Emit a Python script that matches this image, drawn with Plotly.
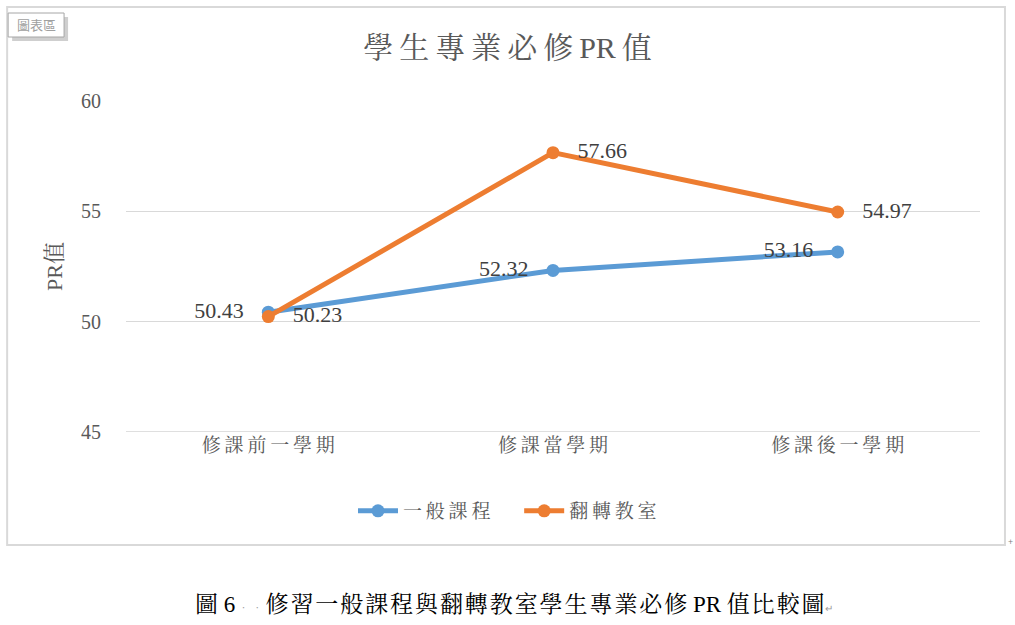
import plotly.graph_objects as go

categories = ["修課前一學期", "修課當學期", "修課後一學期"]
general = [50.43, 52.32, 53.16]
flipped = [50.23, 57.66, 54.97]
series_names = ["一般課程", "翻轉教室"]
y_ticks = [45, 50, 55, 60]
title_text = "學生專業必修PR值"
y_title = "PR值"

SERIF = "Liberation Serif, 'Times New Roman', 'Noto Serif CJK TC', 'Noto Sans CJK TC', serif"
BLUE = "#5B9BD5"
ORANGE = "#ED7D31"
THIN = "\u2009"
NB = "\u00a0"


def spaced(s, gap=THIN):
    """Widen CJK spacing (Ming fonts in the original are wider)."""
    out = ""
    for i, ch in enumerate(s):
        out += ch
        if i < len(s) - 1:
            nxt = s[i + 1]
            if not (ch.isascii() and nxt.isascii()):
                out += gap
    return out


cat_labels = [spaced(c) for c in categories]

fig = go.Figure()
fig.add_trace(go.Scatter(
    x=categories, y=general, name=spaced(series_names[0]) + NB * 5, mode="lines+markers+text",
    line=dict(color=BLUE, width=5), marker=dict(size=13, color=BLUE),
    text=[f"{v:.2f}{NB}{NB}{THIN}" for v in general], textposition="middle left",
    textfont=dict(family=SERIF, size=22, color="#404040"), cliponaxis=False,
))
fig.add_trace(go.Scatter(
    x=categories, y=flipped, name=spaced(series_names[1]), mode="lines+markers+text",
    line=dict(color=ORANGE, width=5), marker=dict(size=13, color=ORANGE),
    text=[f"{NB}{NB}{THIN}{v:.2f}" for v in flipped], textposition="middle right",
    textfont=dict(family=SERIF, size=22, color="#404040"), cliponaxis=False,
))

fig.update_layout(
    width=1015, height=625,
    paper_bgcolor="white", plot_bgcolor="white",
    margin=dict(l=126, r=35, t=101, b=193, autoexpand=False),
    title=dict(text=spaced(title_text), x=0.5, xanchor="center", y=1 - 47 / 625, yanchor="middle",
               font=dict(family=SERIF, size=30, color="#595959")),
    xaxis=dict(showgrid=False, showline=False, ticks="", zeroline=False,
               tickvals=categories, ticktext=cat_labels,
               tickfont=dict(family=SERIF, size=19, color="#595959"),
               range=[-0.5, 2.5]),
    yaxis=dict(range=[45, 60], tickvals=y_ticks, showgrid=True, gridcolor="#D9D9D9", gridwidth=1,
               zeroline=False, showline=False, ticks="", ticklabelstandoff=24,
               tickfont=dict(family=SERIF, size=20, color="#595959"),
               title=dict(text=y_title, font=dict(family=SERIF, size=22, color="#595959"),
                          standoff=12)),
    legend=dict(orientation="h", xref="container", x=0.5, xanchor="center",
                y=(432 - 511) / 331, yref="paper",
                yanchor="middle", font=dict(family=SERIF, size=19, color="#595959"),
                itemwidth=40, tracegroupgap=0),
    showlegend=True,
)
# axis line at 45 slightly darker
fig.add_shape(type="line", xref="paper", yref="y", x0=0, x1=1, y0=45, y1=45,
              line=dict(color="#BFBFBF", width=1), layer="below")


def px_x(px):
    return (px - 126) / 855


def px_y(py):
    return (432 - py) / 331


# chart frame
fig.add_shape(type="rect", xref="paper", yref="paper",
              x0=px_x(7), x1=px_x(1006), y0=px_y(545), y1=px_y(7),
              line=dict(color="#D9D9D9", width=2), layer="below")

# "圖表區" tooltip box with shadow
fig.add_shape(type="rect", xref="paper", yref="paper",
              x0=px_x(12), x1=px_x(68), y0=px_y(41), y1=px_y(17),
              line=dict(width=0), fillcolor="#CFCFCF")
fig.add_shape(type="rect", xref="paper", yref="paper",
              x0=px_x(8), x1=px_x(64), y0=px_y(37), y1=px_y(13),
              line=dict(color="#A6A6A6", width=1), fillcolor="white")
fig.add_annotation(text="圖表區", xref="paper", yref="paper", x=px_x(36), y=px_y(25),
                   xanchor="center", yanchor="middle", showarrow=False,
                   font=dict(family="'Noto Sans CJK TC', sans-serif", size=13, color="#A0A0A0"))

# caption
cap_main = spaced("修習一般課程與翻轉教室學生專業必修", "\u200a") + " PR " + spaced("值比較圖", "\u200a")
cap = ("圖 6<span style='color:#9a9a9a;font-size:11px'> ‧ ‧ </span>" + cap_main +
       "<span style='color:#9a9a9a;font-size:10px'>↵</span>")
fig.add_annotation(text=cap, xref="paper", yref="paper", x=px_x(193), y=px_y(604),
                   xanchor="left", yanchor="middle", showarrow=False,
                   font=dict(family=SERIF, size=23, color="#000000"))
fig.add_annotation(text="+", xref="paper", yref="paper", x=px_x(1012), y=px_y(541),
                   xanchor="center", yanchor="middle",
                   showarrow=False, font=dict(size=9, color="#808080"))

fig.write_html("out.html")
